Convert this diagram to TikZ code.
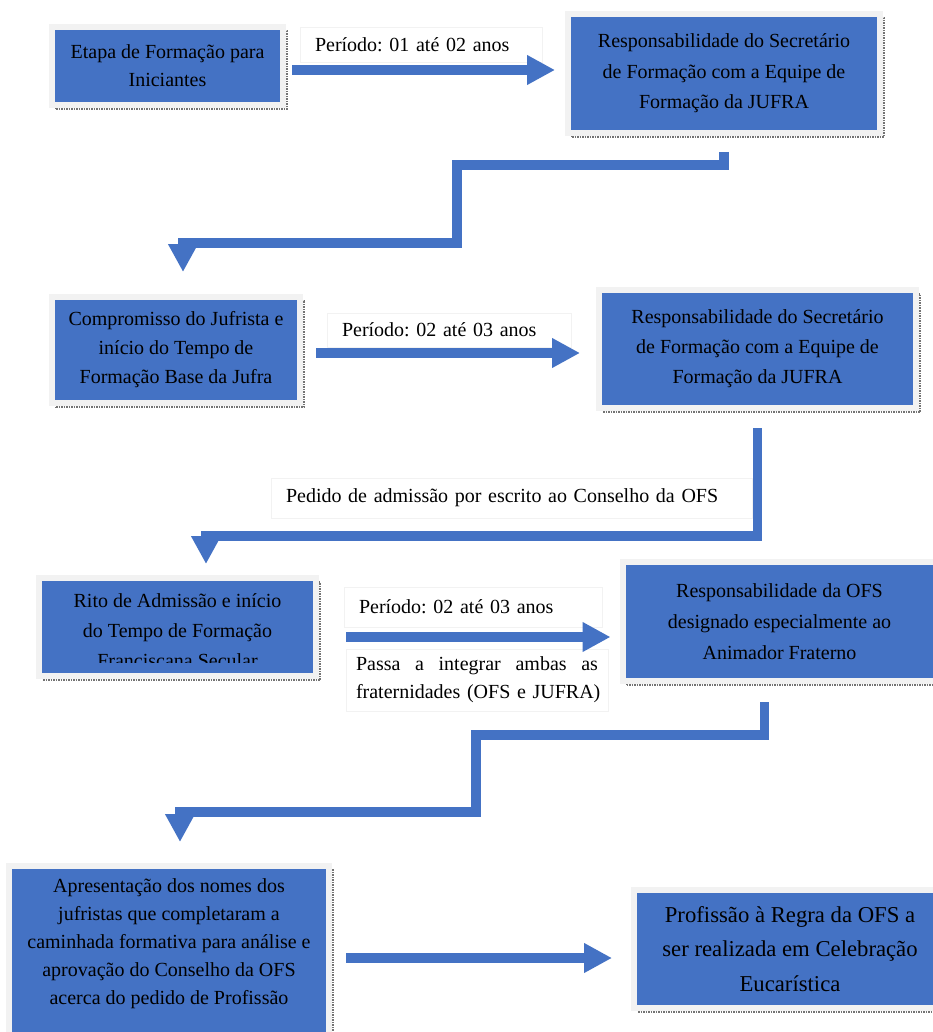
\documentclass[tikz,border=0pt]{standalone}
\usepackage{fontspec}
\setmainfont{Liberation Serif}
\usepackage{xcolor}
\usetikzlibrary{arrows.meta}
\definecolor{azul}{HTML}{4472C4}
\frenchspacing

\begin{document}
\begin{tikzpicture}[
    x=1pt, y=-1pt,
    font=\fontsize{20}{30}\selectfont,
    caixa/.style={draw=black!5, line width=6pt, fill=azul, align=center, inner sep=0pt,
                  preaction={draw=black!55, densely dotted, line width=1.5pt,
                             transform canvas={shift={(4pt,-4pt)}}}},
    rotulo/.style={draw=black!5, line width=0.8pt, fill=white, align=left,
                   inner xsep=15pt, inner ysep=0pt},
    seta/.style={-{Triangle[length=28pt, width=28pt]}, line width=10pt, azul},
    cotovelo/.style={seta, line width=9.5pt},
  ]
    \path[use as bounding box, fill=white] (0,0) rectangle (933,1032);
    \clip (0,0) rectangle (933,1032);

    % caixas
    \node[caixa, minimum width=231pt, minimum height=78pt, font=\fontsize{20}{28}\selectfont] (etapa) at (167.5,66) {Etapa de Formação para\\Iniciantes};
    \node[caixa, minimum width=312pt, minimum height=119pt, font=\fontsize{20}{30.5}\selectfont] (resp1) at (724,73.5) {Responsabilidade do Secretário\\de Formação com a Equipe de\\Formação da JUFRA};
    \node[caixa, minimum width=248pt, minimum height=106pt, font=\fontsize{20}{29}\selectfont] (compromisso) at (176,350) {Compromisso do Jufrista e\\início do Tempo de\\Formação Base da Jufra};
    \node[caixa, minimum width=317pt, minimum height=118pt] (resp2) at (757.5,349) {Responsabilidade do Secretário\\de Formação com a Equipe de\\Formação da JUFRA};
    \node[caixa, minimum width=277pt, minimum height=98pt] (rito) at (177.5,627) {};
    \begin{scope}
      % texto cortado dentro da caixa
      \clip ([xshift=6pt,yshift=-6pt]rito.north west) rectangle (313,662);
      \node[align=center, inner sep=0pt] (ritotxt) at (177.5,631) {Rito de Admissão e início\\do Tempo de Formação\\Franciscana Secular};
    \end{scope}
    \node[caixa, minimum width=314pt, minimum height=119pt, font=\fontsize{20}{31}\selectfont] (resp3) at (779.5,621.5) {Responsabilidade da OFS\\designado especialmente ao\\Animador Fraterno};
    \node[caixa, minimum width=320pt, minimum height=178pt, font=\fontsize{20}{28}\selectfont] (apresent) at (169,955) {};
    \node[align=center, inner sep=0pt, font=\fontsize{20}{28}\selectfont] (apresenttxt) at (169,944) {Apresentação dos nomes dos\\jufristas que completaram a\\caminhada formativa para análise e\\aprovação do Conselho da OFS\\acerca do pedido de Profissão};
    \node[caixa, minimum width=312pt, minimum height=118pt, font=\fontsize{22.7}{34.5}\selectfont] (profissao) at (790,949) {Profissão à Regra da OFS a\\ser realizada em Celebração\\Eucarística};

    % rotulos
    \node[rotulo, text width=212pt, minimum height=35pt] (per1) at (421,44.5) {Período: 01 até 02 anos};
    \node[rotulo, text width=214pt, minimum height=34pt] (per2) at (449,330) {Período: 02 até 03 anos};
    \node[rotulo, text width=228pt, minimum height=40pt] (per3) at (473,607) {Período: 02 até 03 anos};
    \node[rotulo, text width=242pt, minimum height=62pt, inner xsep=10pt, font=\fontsize{20}{28}\selectfont] (passa) at (477,680) {Passa\hfill a\hfill integrar\hfill ambas\hfill as\\\mbox{fraternidades (OFS e JUFRA)}};
    \node[rotulo, text width=451pt, minimum height=40pt] (pedido) at (511.5,498) {Pedido de admissão por escrito ao Conselho da OFS};

    % setas
    \draw[seta] ([xshift=6pt,yshift=-4pt]etapa.east) -- ([xshift=-10pt,yshift=3.5pt]resp1.west);
    \draw[seta] ([xshift=13pt,yshift=-3pt]compromisso.east) -- ([xshift=-16pt,yshift=-4pt]resp2.west);
    \draw[seta] ([xshift=27pt,yshift=-10pt]rito.east) -- ([xshift=-9pt,yshift=-15.5pt]resp3.west);
    \draw[seta] ([xshift=14pt,yshift=-3pt]apresent.east) -- ([xshift=-19pt,yshift=-9pt]profissao.west);

    \coordinate (c1) at (183,272);
    \coordinate (c2) at (206,564);
    \coordinate (c3) at (180,842);
    \draw[cotovelo] ([yshift=-16pt]resp1.south) |- (457,165) |- (183,243) -- (c1);
    \draw[cotovelo] ([yshift=-17pt]resp2.south) |- (206,536) -- (c2);
    \draw[cotovelo] ([xshift=-15pt,yshift=-18pt]resp3.south) |- (476,735) |- (180,812) -- (c3);
\end{tikzpicture}
\end{document}
